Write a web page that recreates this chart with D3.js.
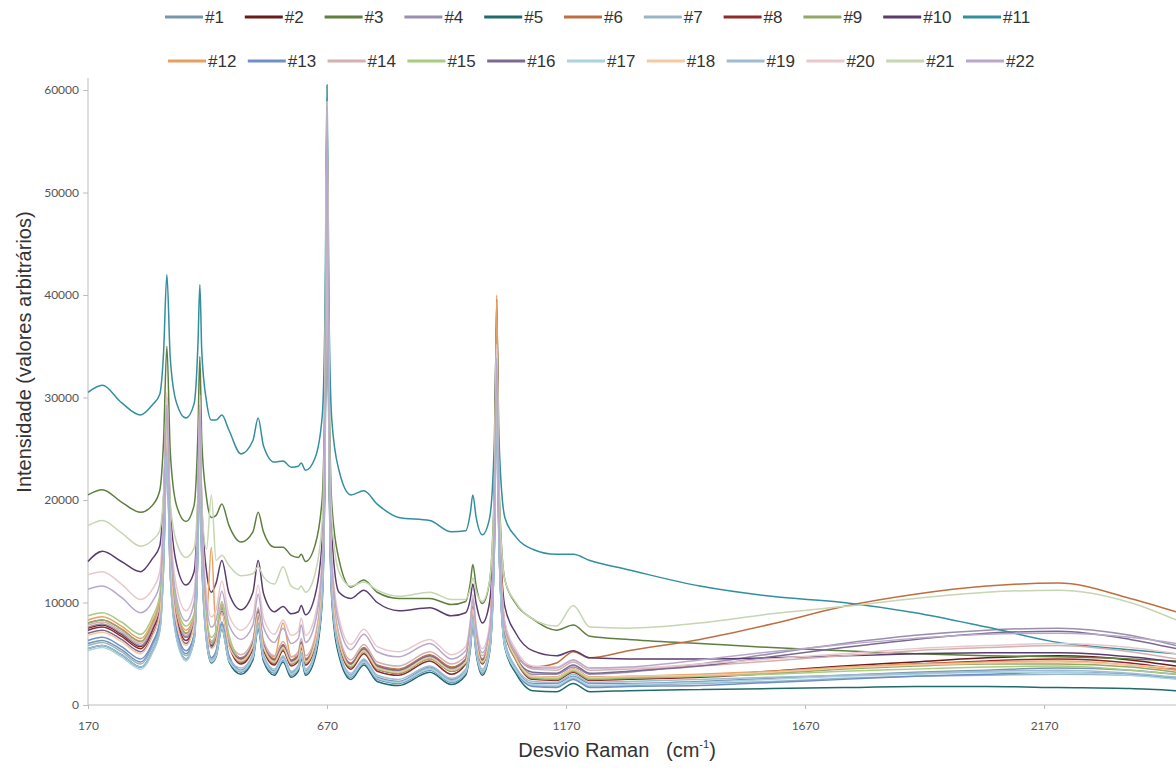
<!DOCTYPE html>
<html>
<head>
<meta charset="utf-8">
<script src="https://cdn.jsdelivr.net/npm/d3@7"></script>
<style>
    body { margin: 0; background: #fff; }
    svg { display: block; }
</style>
</head>
<body>
<div id="graph"></div>
<script>
const shifts = [170, 200, 240, 280, 305, 320, 328, 335, 342, 355,
    375, 392, 400, 404, 408, 418, 428, 438, 450, 465,
    490, 515, 526, 537, 560, 578, 595, 610, 616, 625,
    645, 660, 666, 670, 674, 680, 695, 720, 747, 775,
    820, 885, 930, 960, 970, 975, 982, 995, 1010, 1020,
    1025, 1030, 1042, 1065, 1100, 1150, 1185, 1220, 1300, 1450,
    1600, 1750, 1900, 2050, 2200, 2350, 2446];

// intensities, in thousands (arbitrary units)
const s1 = [6.0,6.3,5.4,4.2,5.9,8.0,14.4,26.0,13.8,7.3, 5.0,6.9,16.4,26.3,15.3,6.8,4.6,5.3,8.1,4.8, 3.4,4.9,8.0,4.8,3.3,4.7,3.2,3.7,5.0,3.3, 5.2,11.0,26.4,55.5,26.4,11.1,5.4,2.9,4.4,2.7, 2.3,3.7,2.5,3.3,6.1,8.5,5.5,3.3,5.7,16.3, 32.8,16.3,6.2,3.6,2.1,2.1,2.8,2.1,2.1,2.3, 2.6,2.9,3.2,3.4,3.6,3.4,3.0];
const s2 = [7.5,7.8,6.9,5.7,7.6,9.9,17.0,30.0,16.4,9.1, 6.6,8.2,18.2,28.6,17.1,8.1,5.8,6.6,9.7,6.1, 4.2,5.9,9.3,5.8,4.1,5.7,4.0,4.6,6.0,4.2, 6.0,12.1,27.9,57.9,27.9,12.2,6.2,3.7,5.4,3.5, 3.1,4.6,3.3,4.2,7.4,10.2,6.8,4.2,7.1,19.8, 39.6,19.8,7.7,4.6,2.7,2.7,3.5,2.7,2.7,2.9, 3.3,3.8,4.2,4.6,4.8,4.4,3.8];
const s3 = [20.5,21.0,19.8,18.8,19.5,20.9,25.7,35.0,24.8,19.5, 17.9,19.5,26.6,34.0,25.8,20.2,18.3,18.5,19.6,17.5, 15.9,16.9,18.8,16.9,15.4,15.4,14.6,14.4,14.7,14.0, 15.6,20.2,33.5,59.0,33.3,19.6,14.2,11.5,12.2,11.0, 10.4,10.4,9.8,10.1,12.0,13.7,11.6,9.9,12.0,21.3, 36.0,21.2,12.2,9.9,8.4,7.3,7.8,6.7,6.4,6.0, 5.6,5.3,5.0,4.8,4.7,4.5,4.3];
const s4 = [7.6,7.9,7.0,5.8,7.5,9.6,16.0,27.6,15.4,8.9, 6.6,8.2,17.7,27.6,16.6,8.1,5.9,6.6,9.4,6.1, 4.4,5.9,9.0,5.8,4.3,5.7,4.2,4.7,6.0,4.3, 6.2,12.0,27.4,56.5,27.4,12.1,6.4,3.9,5.4,3.7, 3.3,4.7,3.5,4.3,7.1,9.5,6.5,4.3,6.7,17.3, 33.8,17.3,7.2,4.6,3.0,3.0,3.7,3.0,3.2,4.0, 5.0,6.0,6.8,7.3,7.5,6.8,5.8];
const s5 = [5.5,5.8,4.9,3.7,5.3,7.3,13.4,24.5,12.9,6.7, 4.5,6.3,15.3,24.7,14.3,6.2,4.1,4.7,7.4,4.2, 3.0,4.4,7.4,4.3,2.9,4.2,2.7,3.3,4.5,2.9, 4.6,10.1,24.5,51.9,24.5,10.2,4.8,2.5,3.9,2.3, 1.9,3.2,2.0,2.9,5.5,7.8,5.0,2.9,5.1,15.0, 30.3,15.0,5.6,3.1,1.4,1.3,2.1,1.3,1.4,1.5, 1.6,1.7,1.8,1.8,1.7,1.6,1.4];
const s6 = [8.0,8.3,7.4,6.2,7.9,10.0,16.4,28.0,15.8,9.3, 7.0,8.5,18.0,27.9,16.9,8.4,6.2,6.9,9.7,6.4, 4.6,6.1,9.2,6.0,4.5,5.9,4.4,4.9,6.2,4.5, 6.4,12.2,27.6,56.7,27.6,12.3,6.6,4.1,5.6,3.9, 3.5,4.9,3.7,4.5,7.3,9.7,6.7,4.5,7.1,18.2, 35.5,18.2,7.6,4.9,3.7,4.1,5.2,4.6,5.3,6.4, 7.9,9.6,10.8,11.6,11.9,10.4,9.1];
const s7 = [5.8,6.1,5.2,4.0,5.7,7.8,14.2,25.8,13.6,7.1, 4.8,6.7,16.2,26.1,15.1,6.6,4.4,5.1,7.9,4.6, 3.3,4.8,7.9,4.7,3.2,4.6,3.1,3.6,4.9,3.2, 5.1,11.1,26.7,56.5,26.7,11.2,5.3,2.8,4.3,2.6, 2.2,3.6,2.4,3.2,6.0,8.4,5.4,3.2,5.5,15.5, 31.2,15.5,5.9,3.4,1.9,1.8,2.6,1.8,1.9,2.1, 2.3,2.6,2.8,2.9,3.0,2.9,2.7];
const s8 = [7.3,7.6,6.7,5.5,7.3,9.5,16.2,28.3,15.5,8.7, 6.3,8.0,18.0,28.4,16.9,7.9,5.6,6.3,9.1,5.8, 4.0,5.5,8.6,5.4,3.9,5.3,3.8,4.3,5.6,3.9, 5.8,11.6,27.0,56.1,27.0,11.7,6.0,3.5,5.0,3.3, 2.9,4.3,3.0,4.0,7.1,9.7,6.4,4.0,6.8,18.9, 37.9,18.9,7.3,4.4,2.5,2.4,3.2,2.4,2.5,2.7, 3.1,3.6,4.0,4.3,4.5,4.1,3.5];
const s9 = [8.0,8.3,7.4,6.2,7.9,10.0,16.4,28.0,15.8,9.3, 7.0,8.4,17.9,27.8,16.8,8.3,6.1,6.8,9.6,6.3, 4.2,5.7,8.8,5.6,4.1,5.5,4.0,4.5,5.8,4.1, 5.9,11.6,26.7,55.2,26.7,11.7,6.1,3.7,5.2,3.5, 3.1,4.5,3.3,4.1,6.9,9.3,6.3,4.1,6.5,17.1, 33.6,17.1,7.0,4.4,2.6,2.5,3.3,2.5,2.6,2.8, 3.1,3.5,3.8,4.0,4.0,3.7,3.2];
const s10 = [14.0,15.0,14.0,13.0,14.3,15.5,20.2,29.0,19.2,13.8, 11.7,13.0,20.4,28.0,19.5,13.0,11.0,11.9,14.1,10.9, 9.3,11.0,14.1,10.9,9.1,9.6,8.9,9.1,9.7,8.8, 10.7,16.1,30.1,56.5,30.2,16.5,11.0,10.4,11.2,10.0, 9.2,9.5,8.7,9.0,10.4,11.8,9.9,8.0,10.0,19.3, 34.0,19.0,9.6,7.0,5.3,4.8,5.3,4.6,4.5,4.5, 4.6,4.8,5.0,5.1,5.1,4.7,4.2];
const s11 = [30.5,31.2,29.5,28.3,29.3,30.3,34.3,42.0,33.9,29.5, 28.0,29.4,35.2,41.0,34.5,29.6,27.8,27.8,28.3,26.8, 24.5,25.8,28.0,25.3,23.7,23.8,23.2,23.3,23.6,22.9, 24.1,28.2,39.3,60.5,39.2,27.8,22.9,20.5,20.9,19.6, 18.3,18.0,16.9,17.0,18.8,20.5,18.3,16.6,18.2,25.7, 37.5,25.6,18.3,16.4,15.2,14.7,14.7,14.1,13.2,11.6, 10.6,10.0,9.0,7.6,6.1,5.4,5.0];
const s12 = [8.3,8.6,7.7,6.5,8.2,10.3,16.7,28.3,16.1,9.6, 7.3,8.7,18.2,28.1,17.1,8.6,15.4,7.1,9.9,6.6, 4.5,6.0,9.1,5.9,4.7,8.0,4.7,4.8,6.1,4.4, 6.3,12.1,27.5,56.6,27.5,12.2,6.5,4.0,5.5,3.8, 3.4,4.8,3.6,4.4,7.2,9.6,6.6,4.4,7.4,20.1, 40.0,20.1,8.0,4.9,2.8,2.7,3.5,2.7,2.8,3.0, 3.3,3.7,4.0,4.2,4.3,3.9,3.4];
const s13 = [6.3,6.6,5.7,4.5,6.1,8.1,14.2,25.3,13.7,7.5, 5.3,6.8,15.8,25.2,14.8,6.7,4.6,5.2,7.9,4.7, 3.2,4.6,7.6,4.5,3.1,4.4,2.9,3.5,4.7,3.1, 5.0,10.8,26.2,55.3,26.2,10.9,5.2,2.7,4.1,2.5, 2.1,3.4,2.2,3.1,5.7,8.0,5.2,3.1,5.3,15.2, 30.5,15.2,5.8,3.3,1.8,1.7,2.5,1.7,1.8,1.9, 2.2,2.5,2.8,3.0,3.2,3.0,2.6];
const s14 = [7.8,8.1,7.2,6.0,7.7,9.8,16.2,27.8,15.6,9.1, 6.8,8.5,18.0,27.9,16.9,8.4,6.2,6.9,9.7,6.4, 4.9,6.4,9.5,6.3,4.8,6.2,4.7,5.2,6.5,4.8, 6.7,12.5,27.9,57.0,27.9,12.6,6.9,4.4,5.9,4.2, 3.8,5.2,4.0,4.8,7.6,10.0,7.0,4.8,7.2,17.8, 34.3,17.8,7.7,5.1,3.5,3.4,4.2,3.4,3.5,3.8, 4.3,4.8,5.3,5.6,5.8,5.2,4.5];
const s15 = [8.7,9.0,8.1,6.9,8.6,10.7,17.1,28.7,16.5,10.0, 7.7,8.9,18.4,28.3,17.3,8.8,6.6,7.3,10.1,6.8, 4.4,5.9,9.0,5.8,4.3,5.7,4.2,4.7,6.0,4.3, 6.2,12.0,27.4,56.5,27.4,12.1,6.4,3.9,5.4,3.7, 3.3,4.7,3.5,4.3,7.1,9.5,6.5,4.3,6.7,17.3, 33.8,17.3,7.2,4.6,2.7,2.6,3.4,2.6,2.7,2.8, 3.0,3.3,3.5,3.7,3.8,3.4,3.0];
const s16 = [7.0,7.3,6.4,5.2,6.9,9.0,15.4,27.0,14.8,8.3, 6.0,7.9,17.4,27.3,16.3,7.8,5.6,6.3,9.1,5.8, 4.5,6.0,9.1,5.9,4.4,5.8,4.3,4.8,6.1,4.4, 6.1,11.8,26.5,54.5,26.5,11.9,6.3,4.0,5.5,3.8, 3.4,4.8,3.6,4.4,7.2,9.6,6.6,4.4,6.7,16.7, 32.4,16.7,7.1,4.6,3.2,3.1,3.9,3.1,3.3,3.8, 4.7,5.6,6.4,7.0,7.2,6.4,5.5];
const s17 = [5.3,5.6,4.7,3.5,5.1,7.1,13.2,24.3,12.7,6.5, 4.3,6.4,15.4,24.8,14.4,6.3,4.2,4.8,7.5,4.3, 3.3,4.7,7.7,4.6,3.2,4.5,3.0,3.6,4.8,3.2, 5.1,10.9,26.3,55.4,26.3,11.0,5.3,2.8,4.2,2.6, 2.2,3.5,2.3,3.2,5.8,8.1,5.3,3.2,5.3,14.9, 29.7,14.9,5.7,3.4,2.0,1.9,2.7,1.9,2.0,2.2, 2.5,2.8,3.0,3.2,3.2,2.9,2.5];
const s18 = [6.8,7.1,6.2,5.0,6.7,8.8,15.2,26.8,14.6,8.1, 5.8,7.8,17.3,27.2,16.2,7.7,5.5,6.2,9.0,5.7, 4.3,5.8,8.9,5.7,4.2,5.6,4.1,4.6,5.9,4.2, 6.1,11.9,27.3,56.4,27.3,12.0,6.3,3.8,5.3,3.6, 3.2,4.6,3.4,4.2,7.0,9.4,6.4,4.2,6.8,17.9, 35.2,17.9,7.3,4.6,2.8,2.7,3.5,2.7,2.8,2.9, 3.2,3.6,3.9,4.1,4.2,3.9,3.6];
const s19 = [5.5,5.8,4.9,3.7,5.3,7.3,13.4,24.5,12.9,6.7, 4.5,6.6,15.6,25.0,14.6,6.5,4.4,5.0,7.7,4.5, 3.6,5.0,8.0,4.9,3.5,4.8,3.3,3.9,5.1,3.5, 5.2,10.7,25.1,52.5,25.1,10.8,5.4,3.1,4.5,2.9, 2.5,3.8,2.6,3.5,6.1,8.4,5.6,3.5,5.7,15.6, 30.9,15.6,6.2,3.7,2.3,2.2,3.0,2.2,2.3,2.5, 2.7,2.9,3.1,3.3,3.4,3.1,2.7];
const s20 = [12.7,13.0,11.8,10.3,11.3,13.0,19.1,30.5,18.2,11.6, 9.2,11.0,20.4,30.3,19.3,10.8,8.6,9.3,12.1,8.7, 7.3,8.7,11.7,8.5,6.9,8.3,6.8,7.2,8.5,6.8, 8.7,14.4,29.8,58.9,29.7,14.4,8.5,5.9,7.4,5.7, 5.2,6.4,4.9,5.7,8.4,10.8,7.8,5.5,7.8,18.3, 34.8,18.2,8.1,5.4,3.8,3.7,4.4,3.6,3.6,4.0, 4.5,5.0,5.5,5.8,6.0,5.6,5.0];
const s21 = [17.5,18.0,16.8,15.5,16.1,17.0,20.5,27.0,19.9,15.9, 14.4,15.3,20.4,25.8,19.8,15.2,20.5,14.1,14.6,13.6, 12.6,12.8,13.5,12.5,11.8,13.5,11.6,11.3,11.6,11.0, 12.8,18.0,31.8,58.0,31.9,18.2,13.0,11.6,12.0,11.2, 10.6,11.0,10.3,10.3,11.4,12.4,11.1,10.1,12.1,20.6, 34.0,20.5,12.2,10.0,8.4,7.7,9.7,7.6,7.5,8.0, 8.9,9.6,10.4,11.0,11.2,10.0,8.3];
const s22 = [11.3,11.6,10.5,9.0,10.1,11.8,17.9,29.3,17.0,10.5, 8.2,10.0,19.4,29.3,18.3,9.8,7.6,8.3,11.1,7.8, 6.4,7.8,10.8,7.6,6.1,7.5,6.0,6.5,7.8,6.1, 8.0,13.8,29.2,58.3,29.2,13.8,7.9,5.4,6.9,5.2, 4.7,6.0,4.5,5.3,8.0,10.4,7.4,5.1,7.3,17.6, 33.8,17.6,7.6,5.1,3.6,3.6,4.4,3.6,3.7,4.4, 5.2,5.9,6.5,6.9,7.0,6.6,6.0];

const names = ["#1", "#2", "#3", "#4", "#5", "#6", "#7", "#8", "#9", "#10", "#11",
    "#12", "#13", "#14", "#15", "#16", "#17", "#18", "#19", "#20", "#21", "#22"];
const xTicks = [170, 670, 1170, 1670, 2170];
const yTicks = [0, 10000, 20000, 30000, 40000, 50000, 60000];

(function () {
    const width = 1176, height = 776;
    const colors = ["#7596ad", "#6b1a1a", "#5f7f3f", "#9a8fae", "#1f6b6b", "#bf6f3f",
        "#9ab5c8", "#8e2a2a", "#93a86a", "#5a3d6e", "#328f9e", "#e8a060",
        "#6f8fc8", "#d4b0b0", "#a8cc80", "#7a6a92", "#a8d4e0", "#f5c8a0",
        "#a0bcd4", "#e8c8cc", "#c5d6b0", "#b8a8cc"];
    const all = [s1, s2, s3, s4, s5, s6, s7, s8, s9, s10, s11,
        s12, s13, s14, s15, s16, s17, s18, s19, s20, s21, s22];

    let series = all.map(function (vals, i) {
        if (vals.length !== shifts.length) console.warn(names[i], vals.length);
        return {
            name: names[i],
            color: colors[i],
            points: shifts.map((x, j) => ({x: x, y: vals[j] * 1000}))
        };
    });

    let svg = d3.select("#graph")
        .append("svg")
        .attr("width", width)
        .attr("height", height);

    svg.append("rect").attr("width", width).attr("height", height).attr("fill", "#fff");

    let x = d3.scaleLinear().domain([170, 2446]).range([88, 1176]);
    let y = d3.scaleLinear().domain([0, 60000]).range([705, 90]);

    // axes
    let yAxis = svg.append("g")
        .attr("transform", "translate(88,0)")
        .call(d3.axisLeft(y).tickValues(yTicks).tickSize(5).tickPadding(4)
            .tickFormat(d3.format("d")));
    yAxis.select(".domain").remove();
    yAxis.selectAll("line").attr("stroke", "#bdbdbd");
    yAxis.selectAll("text")
        .style("font-family", "Lato, 'Open Sans', sans-serif")
        .style("font-size", "12px")
        .attr("fill", "#555");

    let xAxis = svg.append("g")
        .attr("transform", "translate(0,705)")
        .call(d3.axisBottom(x).tickValues(xTicks).tickSize(4).tickPadding(12)
            .tickFormat(d3.format("d")));
    xAxis.select(".domain").remove();
    xAxis.selectAll("line").attr("stroke", "#bdbdbd");
    xAxis.selectAll("text")
        .style("font-family", "Lato, 'Open Sans', sans-serif")
        .style("font-size", "12px")
        .attr("fill", "#555");

    svg.append("line")
        .attr("x1", 88).attr("x2", 88).attr("y1", 78).attr("y2", 705)
        .attr("stroke", "#bdbdbd");
    svg.append("line")
        .attr("x1", 88).attr("x2", 1176).attr("y1", 705).attr("y2", 705)
        .attr("stroke", "#bdbdbd");

    // spectra
    let line = d3.line()
        .x(d => x(d.x))
        .y(d => y(d.y))
        .curve(d3.curveMonotoneX);

    svg.append("g")
        .selectAll("path")
        .data(series)
        .join("path")
        .attr("d", d => line(d.points))
        .attr("fill", "none")
        .attr("stroke", d => d.color)
        .attr("stroke-width", 1.5)
        .attr("stroke-linejoin", "round");

    // axis titles
    svg.append("text")
        .attr("transform", "translate(31,352) rotate(-90)")
        .style("text-anchor", "middle")
        .style("font-family", "'Liberation Sans', Arial, sans-serif")
        .style("font-size", "20px")
        .attr("fill", "#333")
        .text("Intensidade (valores arbitrários)");

    let xt = svg.append("text")
        .attr("x", 617)
        .attr("y", 757)
        .style("text-anchor", "middle")
        .style("font-family", "'Liberation Sans', Arial, sans-serif")
        .style("font-size", "20px")
        .attr("fill", "#333");
    xt.append("tspan").text("Desvio Raman\u00a0\u00a0\u00a0(cm");
    xt.append("tspan").attr("dy", -9).style("font-size", "11px").text("-1");
    xt.append("tspan").attr("dy", 9).text(")");

    // legend, two rows of eleven
    let legend = svg.append("g")
        .selectAll("g")
        .data(series)
        .join("g")
        .attr("transform", function (d, i) {
            let row = i < 11 ? 0 : 1;
            let col = i % 11;
            return `translate(${165 + row * 3 + col * 79.8}, ${row ? 61 : 17})`;
        });
    legend.append("line")
        .attr("x1", 0).attr("x2", 38)
        .attr("stroke", d => d.color)
        .attr("stroke-width", 3);
    legend.append("text")
        .attr("x", 40)
        .attr("dy", "0.36em")
        .style("font-family", "'Liberation Sans', Arial, sans-serif")
        .style("font-size", "17px")
        .attr("fill", "#333")
        .text(d => d.name);
})();
</script>
</body>
</html>
